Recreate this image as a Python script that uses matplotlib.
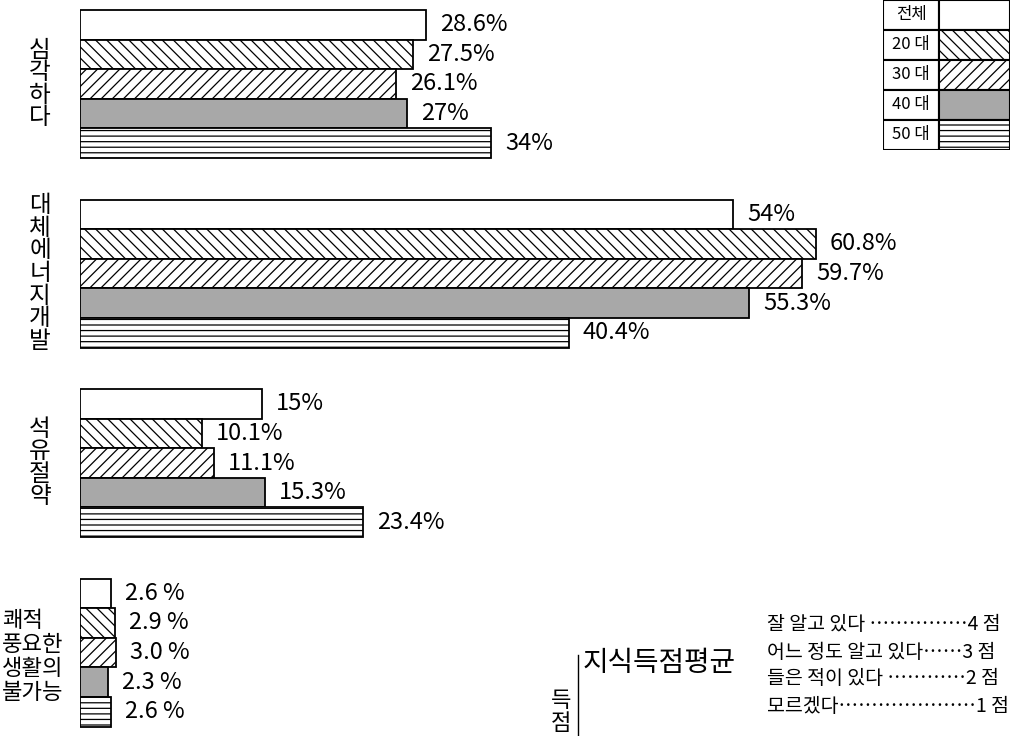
import matplotlib
matplotlib.use('Agg')
import matplotlib.pyplot as plt
from matplotlib.patches import Rectangle
from matplotlib.lines import Line2D

plt.rcParams['font.family'] = ['Noto Sans CJK KR', 'DejaVu Sans']
plt.rcParams['hatch.linewidth'] = 0.9

# data
groups = ['심\n각\n하\n다', '대\n체\n에\n너\n지\n개\n발', '석\n유\n절\n약', '쾌적\n풍요한\n생활의\n불가능']
ages = ['전체', '20 대', '30 대', '40 대', '50 대']
total = [28.6, 54, 15, 2.6]
age20 = [27.5, 60.8, 10.1, 2.9]
age30 = [26.1, 59.7, 11.1, 3.0]
age40 = [27, 55.3, 15.3, 2.3]
age50 = [34, 40.4, 23.4, 2.6]
series = [total, age20, age30, age40, age50]

score_lines = ['잘 알고 있다 ……………4 점',
               '어느 정도 알고 있다……3 점',
               '들은 적이 있다 …………2 점',
               '모르겠다…………………1 점']

# styles per age group
faces = ['white', 'white', 'white', '#a8a8a8', 'white']
hatches = [None, '\\\\\\', '///', None, '---']

W, H = 1016, 736
fig = plt.figure(figsize=(W / 100, H / 100), dpi=100)

# main bar area (y in pixel-like units, top down)
ax = fig.add_axes([80 / W, 0, (W - 80) / W, 1])
ax.set_xlim(0, (W - 80) / 12.1)
ax.set_ylim(H, 0)
ax.axis('off')

bar_h = 29.6
group_step = 189.5
top0 = 10

for g in range(len(groups)):
    top = top0 + g * group_step
    for j, vals in enumerate(series):
        yc = top + bar_h * (j + 0.5)
        ax.barh(yc, vals[g], height=bar_h, color=faces[j], hatch=hatches[j],
                edgecolor='black', linewidth=1.3)
        if g == 3:
            txt = f'{vals[g]:.1f} %'
        else:
            txt = f'{vals[g]:g}%'
        ax.annotate(txt, xy=(vals[g], yc), xytext=(14, 0), textcoords='offset pixels',
                    va='center', ha='left', fontsize=17)
    yc_group = top + bar_h * 2.5
    if g == 3:
        fig.text(2 / W, 1 - (yc_group + 4) / H, groups[g], ha='left', va='center',
                 fontsize=16, linespacing=1.05)
    else:
        ax.annotate(groups[g], xy=(0, yc_group), xytext=(-40, 0), textcoords='offset pixels',
                    ha='center', va='center', fontsize=17, linespacing=0.98)

# legend table top right
lax = fig.add_axes([883 / W, 1 - 150 / H, (1010 - 883) / W, 150 / H])
lax.set_xlim(0, 127)
lax.set_ylim(150, 0)
lax.axis('off')
row_h = 30
for j, name in enumerate(ages):
    y0 = j * row_h
    lax.add_patch(Rectangle((0, y0), 56, row_h, facecolor='white', edgecolor='black', linewidth=1.5))
    lax.add_patch(Rectangle((56, y0), 71, row_h, facecolor=faces[j], hatch=hatches[j],
                            edgecolor='black', linewidth=1.5))
    lax.text(28, y0 + row_h / 2, name, ha='center', va='center', fontsize=12)

# scoring note bottom right
fig.text(561 / W, 1 - 712 / H, '득\n점', ha='center', va='center', fontsize=16, linespacing=1.0)
fig.add_artist(Line2D([578 / W, 578 / W], [1 - 655 / H, 0], color='black', linewidth=1.0))
fig.text(583 / W, 1 - 663 / H, '지식득점평균', ha='left', va='center', fontsize=20)
for i, line in enumerate(score_lines):
    fig.text(767 / W, 1 - (625 + i * 27) / H, line, ha='left', va='center', fontsize=14)

plt.savefig('out.png', dpi=100)
